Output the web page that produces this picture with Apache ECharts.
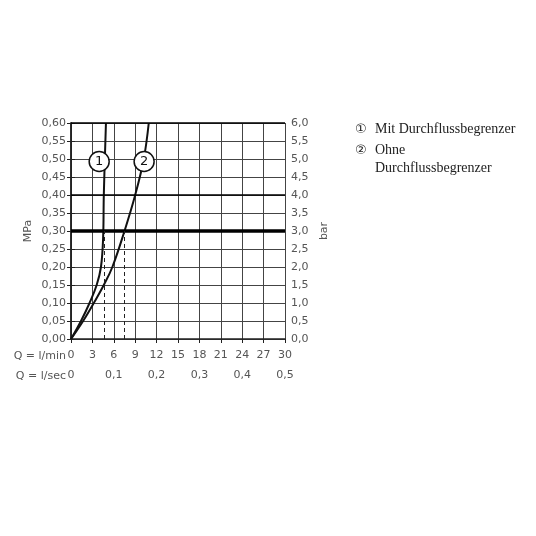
<!DOCTYPE html>
<html>
<head>
<meta charset="utf-8">
<script src="https://cdn.jsdelivr.net/npm/echarts@6/dist/echarts.min.js"></script>
<style>
html,body{margin:0;padding:0;background:#fff;}
#chart{width:536px;height:536px;}
</style>
</head>
<body>
<div id="chart"></div>
<script>
// Durchfluss Q in l/min, Druck in MPa
var curve1Q = [0, 1.4, 2.6, 3.6, 4.2, 4.5, 4.6, 4.9];
var curve1P = [0, 0.05, 0.10, 0.15, 0.20, 0.28, 0.40, 0.60];
var curve2Q = [0, 1.7, 3.2, 4.6, 5.8, 7.5, 9.0, 10.2, 10.9];
var curve2P = [0, 0.05, 0.10, 0.15, 0.20, 0.30, 0.40, 0.50, 0.60];
var dashQ = [4.6, 7.5];      // Schnittpunkte bei 0,30 MPa
var refP = 0.30;
var boldP = 0.40;
var markerQ = [3.95, 10.25];
var markerP = [0.493, 0.493];
var markerText = ['1', '2'];
var legendText = ['Mit Durchflussbegrenzer', 'Ohne', 'Durchflussbegrenzer'];

function pairs(xs, ys){
	var out = [];
	for (var i = 0; i < xs.length; i++) out.push([xs[i], ys[i]]);
	return out;
}
function comma(v, d){
	return v.toFixed(d).replace('.', ',');
}

var labelFont = {color:'#555', fontSize:11, fontFamily:'DejaVu Sans'};
var myChart = echarts.init(document.getElementById('chart'));

var dashData = [];
for (var i = 0; i < dashQ.length; i++){
	dashData.push([{coord:[dashQ[i], 0]}, {coord:[dashQ[i], refP]}]);
}
var markers = [];
for (var j = 0; j < markerQ.length; j++){
	markers.push({value:[markerQ[j], markerP[j]], name:markerText[j]});
}

var option = {
	animation:false,
	grid:{left:71, right:251, top:123, bottom:197},
	xAxis:[{
		type:'value', min:0, max:30, interval:3,
		axisLine:{lineStyle:{color:'#222', width:1.5}},
		axisTick:{show:true, length:4, lineStyle:{color:'#222'}},
		axisLabel:Object.assign({margin:11, formatter:function(v){return String(v);}}, labelFont),
		splitLine:{show:true, lineStyle:{color:'#444', width:1}}
	},{
		type:'value', min:0, max:0.5, interval:0.1, position:'bottom', offset:20,
		axisLine:{show:false}, axisTick:{show:false}, splitLine:{show:false},
		axisLabel:Object.assign({margin:11, formatter:function(v){return v === 0 ? '0' : comma(v,1);}}, labelFont)
	}],
	yAxis:[{
		type:'value', min:0, max:0.6, interval:0.05,
		name:'MPa', nameLocation:'middle', nameGap:37, nameRotate:90,
		nameTextStyle:{color:'#555', fontSize:11, fontFamily:'DejaVu Sans'},
		axisLine:{show:true, lineStyle:{color:'#222', width:1.5}},
		axisTick:{show:true, length:4, lineStyle:{color:'#222'}},
		axisLabel:Object.assign({margin:5, formatter:function(v){return comma(v,2);}}, labelFont),
		splitLine:{show:true, lineStyle:{color:'#444', width:1}}
	},{
		type:'value', min:0, max:6, interval:0.5, position:'right',
		name:'bar', nameLocation:'middle', nameGap:34, nameRotate:90,
		nameTextStyle:{color:'#555', fontSize:11, fontFamily:'DejaVu Sans'},
		axisLine:{show:true, lineStyle:{color:'#222', width:1.5}},
		axisTick:{show:true, length:4, lineStyle:{color:'#222'}},
		axisLabel:Object.assign({margin:6, formatter:function(v){return comma(v,1);}}, labelFont),
		splitLine:{show:false}
	}],
	series:[
		{
			name:'Mit Durchflussbegrenzer', type:'line', smooth:0.4, symbol:'none',
			data:pairs(curve1Q, curve1P),
			lineStyle:{color:'#111', width:2},
			markLine:{
				silent:true, symbol:'none', label:{show:false},
				data:[{yAxis:refP, lineStyle:{color:'#000', width:3.5, type:'solid'}},
				      {yAxis:boldP, lineStyle:{color:'#000', width:1.5, type:'solid'}},
				      {yAxis:0.6, lineStyle:{color:'#000', width:1.5, type:'solid'}}]
			}
		},
		{
			name:'Ohne Durchflussbegrenzer', type:'line', smooth:0.4, symbol:'none',
			data:pairs(curve2Q, curve2P),
			lineStyle:{color:'#111', width:2},
			markLine:{
				silent:true, symbol:'none', label:{show:false},
				lineStyle:{color:'#222', width:1, type:[4,3]},
				data:dashData
			}
		},
		{
			type:'scatter', symbol:'circle', symbolSize:20, z:5,
			data:markers,
			itemStyle:{color:'#fff', borderColor:'#111', borderWidth:1.5, opacity:1},
			label:{show:true, position:'inside', formatter:function(p){return p.name;},
				color:'#111', fontSize:13, fontFamily:'DejaVu Sans'}
		}
	],
	graphic:[
		{type:'text', right:470, top:351, style:{text:'Q = l/min', fill:'#555', font:'11px DejaVu Sans', textAlign:'right'}},
		{type:'text', right:470, top:371, style:{text:'Q = l/sec', fill:'#555', font:'11px DejaVu Sans', textAlign:'right'}},
		{type:'text', left:355, top:123, style:{text:'\u2460', fill:'#222', font:'13px DejaVu Sans'}},
		{type:'text', left:375, top:122, style:{text:legendText[0], fill:'#222', font:'14px Liberation Serif'}},
		{type:'text', left:355, top:144, style:{text:'\u2461', fill:'#222', font:'13px DejaVu Sans'}},
		{type:'text', left:375, top:143, style:{text:legendText[1], fill:'#222', font:'14px Liberation Serif'}},
		{type:'text', left:375, top:161, style:{text:legendText[2], fill:'#222', font:'14px Liberation Serif'}}
	]
};
myChart.setOption(option);
</script>
</body>
</html>
